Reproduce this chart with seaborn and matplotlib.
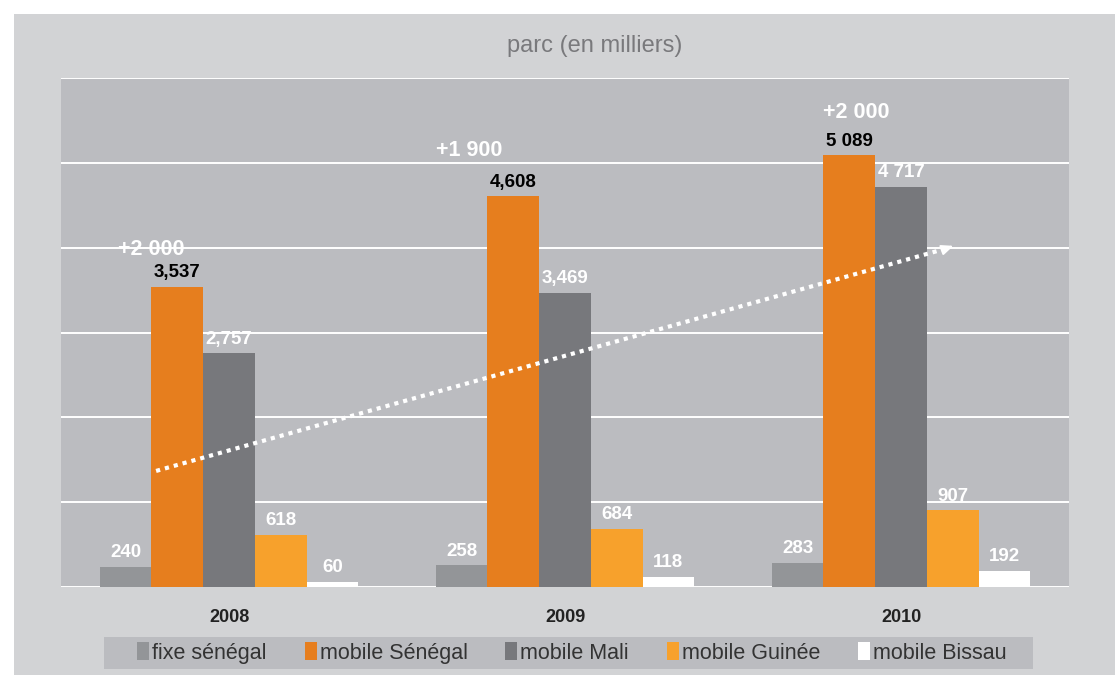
import pandas as pd
import numpy as np
import matplotlib.pyplot as plt
import seaborn as sns
from matplotlib.patches import Rectangle, Patch

# Data
years = ["2008", "2009", "2010"]
series = ["fixe sénégal", "mobile Sénégal", "mobile Mali", "mobile Guinée", "mobile Bissau"]
fixe_senegal = [240, 258, 283]
mobile_senegal = [3537, 4608, 5089]
mobile_mali = [2757, 3469, 4717]
mobile_guinee = [618, 684, 907]
mobile_bissau = [60, 118, 192]
growth = ["+2 000", "+1 900", "+2 000"]

# labels as printed on the chart
labels_fixe = ["240", "258", "283"]
labels_senegal = ["3,537", "4,608", "5 089"]
labels_mali = ["2,757", "3,469", "4 717"]
labels_guinee = ["618", "684", "907"]
labels_bissau = ["60", "118", "192"]

colors = ["#939598", "#e67e1e", "#77787c", "#f7a12c", "#ffffff"]
outer_bg = "#d2d3d5"
plot_bg = "#bbbcc0"

df = pd.DataFrame({
    "year": years * 5,
    "serie": np.repeat(series, 3),
    "value": fixe_senegal + mobile_senegal + mobile_mali + mobile_guinee + mobile_bissau,
})

sns.set_style("white")
plt.rcParams["font.family"] = ["Liberation Sans", "DejaVu Sans"]

fig = plt.figure(figsize=(11.15, 6.75), dpi=100)
fig.patch.set_facecolor("white")
fig.patches.append(Rectangle((14 / 1115, 0), 1, 1 - 14 / 675, transform=fig.transFigure,
                             facecolor=outer_bg, edgecolor="none", zorder=-10))

ax = fig.add_axes([61 / 1115, 1 - 587 / 675, 1008 / 1115, 509 / 675])
ax.set_facecolor(plot_bg)

sns.barplot(data=df, x="year", y="value", hue="serie", hue_order=series,
            palette=colors, width=0.77, gap=0, saturation=1, edgecolor="none",
            linewidth=0, legend=False, ax=ax)

ax.set_ylim(0, 6000)
ax.set_xlim(-0.5, 2.5)
ax.set_yticks(np.arange(0, 6001, 1000))
ax.yaxis.grid(True, color="white", linewidth=1.4)
ax.set_axisbelow(True)
ax.tick_params(axis="y", left=False, labelleft=False)
ax.tick_params(axis="x", bottom=False, pad=12)
for lbl in ax.get_xticklabels():
    lbl.set_fontweight("bold")
    lbl.set_fontsize(13)
    lbl.set_color("#222222")
ax.set_xlabel("")
ax.set_ylabel("")
for s in ax.spines.values():
    s.set_visible(False)

all_labels = [labels_fixe, labels_senegal, labels_mali, labels_guinee, labels_bissau]
for i, cont in enumerate(ax.containers):
    col = "black" if i == 1 else "white"
    ax.bar_label(cont, labels=all_labels[i], padding=4, color=col,
                 fontsize=13.5, fontweight="bold")

# growth annotations (offset from each year's centre)
growth_pos = [(-0.23, 3975), (-0.286, 5150), (-0.134, 5590)]
for i, (txt, (gx, gy)) in enumerate(zip(growth, growth_pos)):
    ax.text(i + gx, gy, txt, color="white", fontsize=15.5, fontweight="bold",
            ha="center", va="center")

# dotted trend arrow
ax.plot([-0.217, 2.13], [1368, 3985], color="white", linestyle=(0, (1, 1.2)),
        linewidth=3, solid_capstyle="butt", dash_capstyle="butt")
ax.annotate("", xy=(2.164, 4033), xytext=(2.12, 3970),
            arrowprops=dict(arrowstyle="-|>,head_length=0.7,head_width=0.3",
                            color="white", lw=1.5))

fig.text(595 / 1115, 1 - 46 / 675, "parc (en milliers)", color="#79797c",
         fontsize=17, ha="center", va="center")

# legend box
fig.patches.append(Rectangle((104 / 1115, 1 - 669 / 675), 929 / 1115, 32 / 675,
                             transform=fig.transFigure, facecolor=plot_bg,
                             edgecolor="none", zorder=1))
handles = [Patch(facecolor=c, edgecolor="none") for c in colors]
leg = fig.legend(handles, series, loc="center", bbox_to_anchor=(572 / 1115, 1 - 653 / 675),
                 ncol=5, frameon=False, handlelength=0.55,
                 handleheight=0.9, handletextpad=0.15, columnspacing=1.75,
                 prop={"family": "Liberation Sans", "size": 15.5})
for t in leg.get_texts():
    t.set_color("#333333")

fig.savefig("out.png", dpi=100)
